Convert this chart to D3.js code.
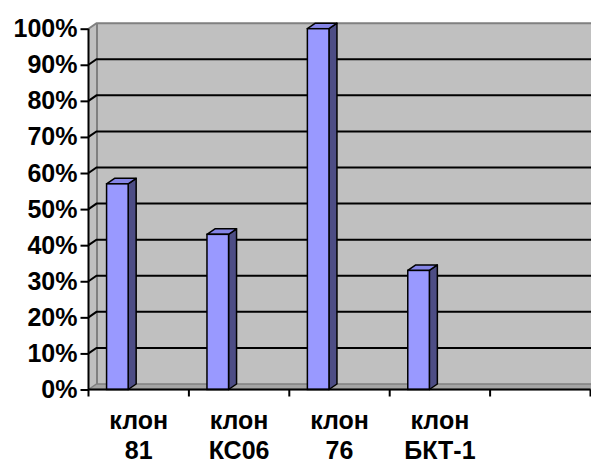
<!DOCTYPE html>
<html>
<head>
<meta charset="utf-8">
<script src="https://cdn.jsdelivr.net/npm/d3@7/dist/d3.min.js"></script>
<style>
  html, body { margin: 0; padding: 0; background: #fff; }
  svg { display: block; }
  text { font-family: "Liberation Sans", Arial, sans-serif; font-weight: bold; fill: #000; }
</style>
</head>
<body>
<svg id="chart" width="591" height="464"></svg>
<script>
// Category labels (two lines each, split on the space); the last slot is empty
const categories = ["клон 81", "клон КС06", "клон 76", "клон БКТ-1", ""];
// Share of each clone, as a fraction of 1
const values = [0.57, 0.43, 1.00, 0.33, null];
// Value axis ticks
const yTicks = [0, 0.1, 0.2, 0.3, 0.4, 0.5, 0.6, 0.7, 0.8, 0.9, 1.0];

(function () {
  const W = 591;
  const svg = d3.select("#chart");

  // Front plane of the 3D plot
  const pLeft = 88.5, pRight = 590.5, pBottom = 389.5, pTop = 28.7;
  // Depth offset of the back wall
  const dx = 8, dy = -5.5;

  const x = d3.scaleBand().domain(categories).range([pLeft, pRight]).paddingInner(0).paddingOuter(0);
  const y = d3.scaleLinear().domain([0, 1]).range([pBottom, pTop]);

  const wallFill = "#c0c0c0", wallEdge = "#808080";

  // Side wall (left, between the axis and the back wall)
  svg.append("polygon")
    .attr("points", [[pLeft, pBottom], [pLeft, y(1)], [pLeft + dx, y(1) + dy], [pLeft + dx, pBottom + dy]].join(" "))
    .attr("fill", wallFill).attr("stroke", "none");

  // Back wall
  svg.append("rect")
    .attr("x", pLeft + dx).attr("y", y(1) + dy)
    .attr("width", W + 20 - (pLeft + dx)).attr("height", pBottom - y(1))
    .attr("fill", wallFill);

  // Floor
  svg.append("polygon")
    .attr("points", [[pLeft, pBottom], [pLeft + dx, pBottom + dy], [W + 20, pBottom + dy], [W + 20, pBottom]].join(" "))
    .attr("fill", "#a4a4a4").attr("stroke", wallEdge).attr("stroke-width", 1.5);

  // Wall edges
  svg.append("path")
    .attr("d", `M${pLeft},${y(1)} L${pLeft + dx},${y(1) + dy} L${W + 20},${y(1) + dy}`)
    .attr("fill", "none").attr("stroke", wallEdge).attr("stroke-width", 2);
  svg.append("line")
    .attr("x1", pLeft + dx + 0.5).attr("x2", pLeft + dx + 0.5)
    .attr("y1", y(1) + dy).attr("y2", pBottom + dy)
    .attr("stroke", wallEdge).attr("stroke-width", 2);

  // Gridlines: slanted across the side wall, then level along the back wall
  svg.append("g").selectAll("path")
    .data(yTicks.filter(t => t > 0 && t < 1))
    .join("path")
    .attr("d", t => `M${pLeft},${y(t)} L${pLeft + dx},${y(t) + dy} L${W + 20},${y(t) + dy}`)
    .attr("fill", "none").attr("stroke", "#000").attr("stroke-width", 2);

  // Bars (front, top and side faces)
  const barFront = "#9999ff", barTop = "#8585e6", barSide = "#4d4d85";
  const bw = x.bandwidth() * 0.215;
  const bx = c => x(c) + x.bandwidth() * 0.18;
  const data = categories.map((c, i) => ({ c, v: values[i] })).filter(d => d.v != null);

  const bars = svg.append("g").selectAll("g").data(data).join("g");
  bars.append("polygon")
    .attr("points", d => [[bx(d.c) + bw, y(d.v)], [bx(d.c) + bw + dx, y(d.v) + dy],
                         [bx(d.c) + bw + dx, y(0) + dy], [bx(d.c) + bw, y(0)]].join(" "))
    .attr("fill", barSide).attr("stroke", "#000").attr("stroke-width", 1.5).attr("stroke-linejoin", "round");
  bars.append("polygon")
    .attr("points", d => [[bx(d.c), y(d.v)], [bx(d.c) + dx, y(d.v) + dy],
                         [bx(d.c) + bw + dx, y(d.v) + dy], [bx(d.c) + bw, y(d.v)]].join(" "))
    .attr("fill", barTop).attr("stroke", "#000").attr("stroke-width", 1.5).attr("stroke-linejoin", "round");
  bars.append("rect")
    .attr("x", d => bx(d.c)).attr("y", d => y(d.v))
    .attr("width", bw).attr("height", d => y(0) - y(d.v))
    .attr("fill", barFront).attr("stroke", "#000").attr("stroke-width", 1.5);

  // Value axis
  const yAxis = svg.append("g")
    .attr("transform", `translate(${pLeft},0)`)
    .call(d3.axisLeft(y).tickValues(yTicks).tickFormat(d3.format(".0%")).tickSize(8).tickPadding(3));
  yAxis.select(".domain").attr("stroke", "#000").attr("stroke-width", 2)
    .attr("d", `M0,${y(1)}V${y(0)}`);
  yAxis.selectAll(".tick line").attr("stroke", "#000").attr("stroke-width", 2);
  yAxis.selectAll(".tick text")
    .attr("font-size", 25).attr("font-family", "Liberation Sans, Arial, sans-serif")
    .attr("font-weight", "bold").attr("fill", "#000");

  // Category axis
  const xAxis = svg.append("g").attr("transform", `translate(0,${pBottom})`);
  xAxis.append("line").attr("x1", pLeft).attr("x2", pRight)
    .attr("stroke", "#000").attr("stroke-width", 2);
  const bounds = categories.map(c => x(c)).concat([pRight]);
  xAxis.selectAll(".xt").data(bounds).join("line")
    .attr("x1", d => d).attr("x2", d => d).attr("y1", 0).attr("y2", 7)
    .attr("stroke", "#000").attr("stroke-width", 2);

  const labels = svg.append("g").selectAll("text")
    .data(categories.filter(c => c))
    .join("text")
    .attr("x", c => x(c) + x.bandwidth() / 2)
    .attr("text-anchor", "middle")
    .attr("font-size", 25);
  labels.selectAll("tspan")
    .data(c => c.split(" ").map((s, i) => ({ s, i, c })))
    .join("tspan")
    .attr("x", d => x(d.c) + x.bandwidth() / 2)
    .attr("y", d => d.i === 0 ? 429 : 458.5)
    .text(d => d.s);
})();
</script>
</body>
</html>
